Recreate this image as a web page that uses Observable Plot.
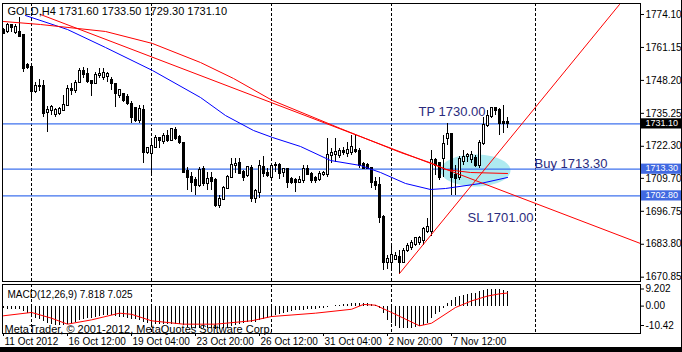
<!DOCTYPE html>
<html><head><meta charset="utf-8">
<script src="https://cdn.jsdelivr.net/npm/d3@7"></script>
<script src="https://cdn.jsdelivr.net/npm/@observablehq/plot@0.6"></script>
<style>
html,body{margin:0;padding:0;background:#fff;}
#chart{position:relative;width:682px;height:352px;overflow:hidden;background:#fff;}
#main{position:absolute;left:0;top:0;}
#macd{position:absolute;left:0;top:283px;}
#edgeB{position:absolute;left:0;top:347px;width:682px;height:5px;background:#000;}
#edgeR{position:absolute;left:681px;top:0;width:1px;height:352px;background:#000;}
</style></head><body>
<div id="chart"><div id="main"></div><div id="macd"></div><div id="edgeB"></div><div id="edgeR"></div></div>
<script>
// ---- H4 candles (bar index 0..126) ----
const opens = [1767.8,1767.4,1769.8,1767.1,1767.2,1765.8,1754.0,1753.1,1743.8,1745.7,1745.8,1735.4,1736.2,1734.7,1735.0,1736.3,1738.3,1744.6,1744.2,1747.5,1751.7,1750.7,1747.7,1747.1,1750.1,1749.2,1749.8,1748.1,1746.5,1742.2,1742.5,1741.6,1738.7,1737.0,1732.4,1736.3,1719.8,1719.4,1721.7,1725.3,1724.1,1726.1,1724.5,1728.4,1725.7,1723.3,1712.3,1709.9,1708.8,1706.8,1713.1,1707.6,1709.5,1708.8,1698.9,1701.3,1705.6,1709.9,1714.8,1715.4,1711.9,1710.7,1713.5,1701.7,1704.0,1713.9,1711.5,1709.9,1714.6,1714.6,1712.1,1713.1,1709.1,1708.8,1708.0,1708.8,1713.1,1711.1,1709.5,1709.1,1711.1,1711.1,1718.6,1719.0,1718.6,1720.2,1719.4,1719.8,1720.6,1720.2,1715.0,1714.6,1713.5,1708.0,1706.8,1694.2,1676.5,1676.5,1678.0,1678.4,1676.5,1681.2,1682.4,1683.6,1684.4,1685.1,1688.7,1688.7,1716.6,1715.4,1717.4,1725.3,1726.9,1710.7,1709.9,1716.2,1718.2,1717.0,1717.4,1714.6,1723.3,1730.4,1734.0,1737.1,1736.3,1731.6,1731.6];
const highs = [1768.5,1770.4,1770.0,1770.0,1773.0,1765.9,1754.7,1753.4,1747.5,1748.4,1748.1,1738.0,1738.5,1737.2,1737.6,1742.2,1746.2,1746.8,1748.1,1753.0,1753.1,1752.7,1748.1,1751.4,1752.7,1752.7,1751.4,1749.4,1746.8,1744.8,1742.9,1742.5,1739.9,1737.7,1738.3,1738.3,1721.7,1725.3,1726.5,1725.3,1727.3,1728.4,1729.2,1729.6,1726.5,1723.3,1713.9,1711.9,1709.9,1713.9,1714.3,1711.9,1711.9,1709.5,1702.9,1706.4,1710.7,1717.4,1717.4,1717.4,1712.7,1714.3,1714.6,1705.2,1716.6,1718.2,1713.5,1715.4,1715.8,1715.4,1713.5,1713.5,1709.9,1709.5,1710.3,1714.6,1714.6,1711.9,1710.3,1712.3,1712.3,1725.3,1721.4,1725.3,1721.4,1721.7,1723.7,1726.5,1726.5,1721.4,1715.8,1715.4,1713.9,1709.9,1709.9,1695.0,1679.2,1683.9,1680.4,1681.2,1682.0,1683.9,1685.1,1686.3,1686.7,1690.3,1693.8,1720.6,1717.4,1715.8,1726.5,1731.2,1727.3,1714.6,1718.2,1720.6,1719.4,1720.2,1718.6,1724.5,1733.5,1736.3,1737.5,1737.5,1737.1,1738.3,1733.5];
const lows = [1766.1,1766.5,1766.9,1766.1,1765.6,1751.4,1752.5,1740.3,1742.9,1743.8,1733.7,1727.8,1734.3,1733.7,1734.4,1736.1,1738.0,1742.2,1742.9,1746.8,1748.8,1746.8,1742.0,1746.8,1748.8,1748.1,1747.5,1744.2,1737.6,1740.9,1739.6,1738.3,1731.1,1731.5,1731.2,1715.4,1719.0,1711.5,1721.4,1721.4,1722.9,1723.7,1724.1,1724.5,1722.9,1711.5,1704.8,1704.0,1702.9,1706.0,1706.4,1704.8,1704.8,1698.1,1697.7,1700.9,1705.2,1709.5,1711.5,1711.1,1708.4,1709.9,1700.1,1699.7,1701.7,1709.9,1709.9,1709.5,1711.9,1709.1,1709.9,1705.6,1707.2,1704.0,1707.6,1707.6,1710.7,1707.6,1707.6,1708.4,1710.3,1709.9,1715.4,1715.8,1717.4,1718.6,1717.8,1718.6,1719.4,1713.5,1713.1,1713.1,1705.6,1704.8,1691.8,1673.3,1673.7,1673.3,1677.3,1672.1,1676.1,1680.4,1681.2,1682.8,1683.2,1683.2,1687.9,1686.7,1710.7,1708.8,1709.9,1722.5,1702.9,1702.9,1708.8,1714.6,1715.8,1715.4,1713.9,1713.5,1722.5,1729.6,1733.2,1734.4,1726.5,1727.3,1729.3];
const closes = [1766.5,1769.8,1769.1,1769.1,1765.6,1753.0,1753.1,1743.8,1745.8,1745.9,1735.3,1736.3,1737.5,1736.3,1736.7,1738.3,1744.6,1744.2,1746.8,1751.7,1750.4,1747.7,1747.1,1750.1,1750.7,1751.0,1750.5,1746.8,1743.1,1744.2,1740.2,1739.2,1733.5,1732.4,1736.7,1719.8,1721.4,1722.1,1725.3,1724.5,1726.1,1724.5,1728.8,1725.3,1723.7,1711.9,1709.9,1708.0,1706.8,1712.7,1707.6,1709.1,1708.4,1698.9,1701.3,1705.6,1709.9,1714.6,1715.0,1711.5,1709.9,1713.9,1701.7,1704.4,1714.3,1711.5,1710.7,1714.3,1714.8,1711.5,1713.1,1708.0,1708.0,1708.0,1708.8,1713.1,1711.1,1708.8,1708.8,1711.1,1711.5,1718.6,1719.4,1719.8,1720.2,1719.8,1720.6,1721.7,1720.2,1714.6,1713.5,1713.5,1708.0,1706.8,1694.2,1676.5,1678.0,1679.2,1678.8,1676.5,1680.8,1682.8,1683.9,1685.9,1685.9,1689.5,1690.3,1716.6,1714.6,1709.9,1722.9,1726.9,1709.9,1709.5,1717.0,1717.8,1718.6,1718.6,1714.6,1723.3,1730.4,1734.0,1737.1,1736.3,1731.2,1731.2,1731.1];

// ---- moving averages (bar index, price) ----
const maRedBar   = [0, 9.25, 25.5, 37.25, 49.25, 57.5, 67.25, 84.25, 99.25, 107.25, 110.5, 116.75, 126];
const maRedPrice = [1771.35, 1770.17, 1767.42, 1762.70, 1755.23, 1748.95, 1740.30, 1729.29, 1719.86, 1715.54, 1713.18, 1712.0, 1711.61];
const maBlueBar   = [5.5, 16, 25.5, 37.25, 49.25, 55.5, 62.5, 67.25, 74.25, 81.75, 89.25, 94.25, 100.5, 106.75, 110.5, 119.25, 126];
const maBluePrice = [1773.71, 1768.2, 1761.13, 1752.09, 1741.48, 1734.40, 1728.51, 1725.76, 1722.22, 1716.72, 1714.75, 1712.0, 1707.68, 1705.32, 1705.71, 1707.68, 1710.04];

// ---- drawn objects ----
const trendDownBar = [9.25, 159.25], trendDownPrice = [1774.10, 1684.09];
const trendUpBar = [99, 154], trendUpPrice = [1672.30, 1778.03];
const levelPrices = [1731.10, 1713.30, 1702.80];
const levelLabels = ["1731.10", "1713.30", "1702.80"];
const noteTexts = ["TP 1730.00", "Buy 1713.30", "SL 1701.00"];
const noteBars = [103.75, 132.75, 116];
const notePrices = [1737.94, 1717.39, 1696.28];
const zoneCenterBar = 118, zoneCenterPrice = 1712.8, zoneHalfBars = 8.75, zoneHalfPrice = 6.3;

// ---- axes ----
const priceTicks = [1774.10, 1761.15, 1748.20, 1735.25, 1722.30, 1709.70, 1696.75, 1683.80, 1670.85];
const dateTickBars = [0, 16, 32, 48, 64, 80, 96, 112];
const dateTickLabels = ["11 Oct 2012", "16 Oct 12:00", "19 Oct 04:00", "23 Oct 20:00", "26 Oct 12:00", "31 Oct 04:00", "2 Nov 20:00", "7 Nov 12:00"];
const gridBars = [7, 37, 67, 97, 133];
const macdTicks = [9.202, 0, -10.42];
const macdTickLabels = ["9.202", "0.00", "-10.42"];

// ---- MACD(12,26,9) ----
const macdMain = [-1.5,-1.6,-1.6,-1.8,-2.0,-3.0,-4.2,-5.5,-6.5,-7.3,-8.3,-9.3,-9.8,-10.2,-10.4,-10.3,-9.9,-9.4,-8.8,-8.0,-7.3,-6.8,-6.4,-6.0,-5.6,-5.3,-5.1,-5.2,-5.6,-5.9,-6.2,-6.5,-7.0,-7.4,-7.8,-8.8,-9.3,-9.7,-10.0,-10.1,-10.1,-10.0,-9.8,-9.7,-9.8,-10.5,-11.3,-11.9,-12.3,-12.2,-12.2,-12.1,-12.0,-12.6,-12.6,-12.3,-11.8,-11.0,-10.3,-9.7,-9.3,-8.8,-9.0,-8.6,-7.7,-7.0,-6.4,-5.7,-5.0,-4.4,-3.8,-3.3,-2.9,-2.6,-2.4,-2.1,-1.9,-1.7,-1.6,-1.4,-1.2,-0.6,-0.2,0.3,0.6,0.9,1.1,1.4,1.6,1.4,1.3,1.2,0.8,0.3,-1.5,-4.0,-7.5,-9.5,-10.8,-11.8,-12.2,-12.2,-12.0,-11.6,-11.2,-10.6,-9.6,-6.5,-4.5,-3.3,-1.5,1.5,3.2,4.6,5.4,5.9,6.3,6.6,7.0,7.6,8.2,8.8,9.2,9.2,8.9,8.3,7.818];
const signalBar = [0, 7, 12, 16, 22, 29, 32, 37, 45, 53, 62, 67, 78, 87, 90, 93, 97, 104, 107, 113, 117, 121, 124, 126];
const signalValue = [-5.2, -3.4, -6.5, -9.7, -7.4, -3.8, -4.4, -7.9, -9.7, -9.7, -7.9, -5.6, -3.8, -1.7, 0.9, 0.5, -3.4, -10.6, -9.2, -0.75, 2.8, 5.4, 6.6, 7.025];

const headerText = "GOLD,H4 1731.60 1733.50 1729.30 1731.10";
const macdText = "MACD(12,26,9) 7.818 7.025";
const copyText = "MetaTrader, \u00A9 2001-2012, MetaQuotes Software Corp.";

// ---- build tables ----
const bars = opens.map((o, i) => ({i, o, h: highs[i], l: lows[i], c: closes[i]}));
const up = bars.filter(d => d.c >= d.o), dn = bars.filter(d => d.c < d.o);
const maRed = maRedBar.map((b, k) => ({b, p: maRedPrice[k]}));
const maBlue = maBlueBar.map((b, k) => ({b, p: maBluePrice[k]}));
const tDown = trendDownBar.map((b, k) => ({b, p: trendDownPrice[k]}));
const tUp = trendUpBar.map((b, k) => ({b, p: trendUpPrice[k]}));
const notes = noteTexts.map((t, k) => ({t, b: noteBars[k], p: notePrices[k]}));
const levels = levelPrices.map((p, k) => ({p, t: levelLabels[k], k}));
const zone = d3.range(0, 73).map(k => { const a = k / 72 * 2 * Math.PI; return {b: zoneCenterBar + zoneHalfBars * Math.cos(a), p: zoneCenterPrice + zoneHalfPrice * Math.sin(a)}; });
const macdRows = macdMain.map((v, i) => ({i, v}));
const signal = signalBar.map((b, k) => ({b, v: signalValue[k]}));
const dates = dateTickBars.map((b, k) => ({b, t: dateTickLabels[k]}));

const W = 682;
const xDomain = [-0.25, 159.25];
const xMax = xDomain[1];
const FONT = "'Liberation Sans', Arial, sans-serif";
const blue = "#4169e1", lineBlue = "#3f72ee", noteColor = "#2b2b7d";
const thin = {strokeWidth: 1, shapeRendering: "crispEdges"};

const main = Plot.plot({
  width: W, height: 283,
  marginLeft: 2, marginRight: 42, marginTop: 3, marginBottom: 2,
  style: {fontFamily: FONT, fontSize: "10px", background: "transparent", color: "#000"},
  x: {domain: xDomain, axis: null},
  y: {domain: [1669.16, 1778.42], axis: "right", ticks: priceTicks, tickFormat: d => d.toFixed(2), tickSize: 3, tickPadding: 2, label: null},
  marks: [
    Plot.line(zone, {x: "b", y: "p", fill: "#aeeaf0", stroke: "none", curve: "linear-closed"}),
    Plot.ruleX(gridBars, {x: d => d, stroke: "#000", strokeDasharray: "3,2", ...thin}),
    Plot.ruleY(levelPrices, {y: d => d, stroke: lineBlue, strokeWidth: 1.3}),
    Plot.ruleX(bars, {x: "i", y1: "l", y2: "h", stroke: "#000", ...thin}),
    Plot.rect(up, {x1: d => d.i - 0.25, x2: d => d.i + 0.25, y1: "o", y2: "c", fill: "#fff", stroke: "#000", insetTop: -0.5, insetBottom: -0.5, shapeRendering: "crispEdges"}),
    Plot.rect(dn, {x1: d => d.i - 0.25, x2: d => d.i + 0.25, y1: "o", y2: "c", fill: "#000", stroke: "#000", insetTop: -0.5, insetBottom: -0.5, shapeRendering: "crispEdges"}),
    Plot.line(maBlue, {x: "b", y: "p", stroke: "#0000ff", strokeWidth: 1}),
    Plot.line(maRed, {x: "b", y: "p", stroke: "#ff0000", strokeWidth: 1}),
    Plot.line(tDown, {x: "b", y: "p", stroke: "#ff0000", strokeWidth: 1}),
    Plot.line(tUp, {x: "b", y: "p", stroke: "#ff0000", strokeWidth: 1}),
    Plot.text(notes, {x: "b", y: "p", text: "t", textAnchor: "start", lineAnchor: "top", fontSize: 13, fill: noteColor}),
    Plot.rect(levels, {x1: xMax + 0.25, x2: xMax + 10.5, y1: d => d.p - 2, y2: d => d.p + 2, fill: d => d.k === 0 ? "#000" : blue}),
    Plot.text(levels, {x: xMax + 0.25, y: "p", text: "t", textAnchor: "start", dx: 4, dy: -1, fill: "#fff", fontSize: 9}),
    Plot.text([headerText], {frameAnchor: "top-left", dx: 5, dy: 4, lineAnchor: "top", textAnchor: "start", fontSize: 11, text: d => d}),
    Plot.frame({stroke: "#000", shapeRendering: "crispEdges"})
  ]
});
document.getElementById("main").appendChild(main);

const macd = Plot.plot({
  width: W, height: 69,
  marginLeft: 2, marginRight: 42, marginTop: 1, marginBottom: 19,
  style: {fontFamily: FONT, fontSize: "10px", background: "transparent", color: "#000"},
  x: {domain: xDomain, axis: "bottom", ticks: dateTickBars, tickFormat: () => "", tickSize: 3, label: null},
  y: {domain: [-10.42, 9.202], range: [42, 5.5], axis: "right", ticks: macdTicks, tickFormat: d => macdTickLabels[macdTicks.indexOf(d)], tickSize: 3, tickPadding: 2, label: null},
  marks: [
    Plot.text([copyText], {frameAnchor: "bottom-left", dx: 2, dy: -1, lineAnchor: "bottom", textAnchor: "start", fontSize: 11, text: d => d}),
    Plot.ruleX(gridBars, {x: d => d, stroke: "#000", strokeDasharray: "3,2", ...thin}),
    Plot.ruleX(macdRows, {x: "i", y1: 0, y2: "v", stroke: "#000", ...thin}),
    Plot.line(signal, {x: "b", y: "v", stroke: "#ff0000", strokeWidth: 1}),
    Plot.text([macdText], {frameAnchor: "top-left", dx: 5, dy: 6, lineAnchor: "top", textAnchor: "start", fontSize: 10, text: d => d}),
    Plot.text(dates, {x: "b", text: "t", frameAnchor: "bottom", lineAnchor: "top", textAnchor: "start", dy: 4, dx: 1, fontSize: 10}),
    Plot.frame({stroke: "#000", shapeRendering: "crispEdges"})
  ]
});
document.getElementById("macd").appendChild(macd);
</script>
</body></html>
